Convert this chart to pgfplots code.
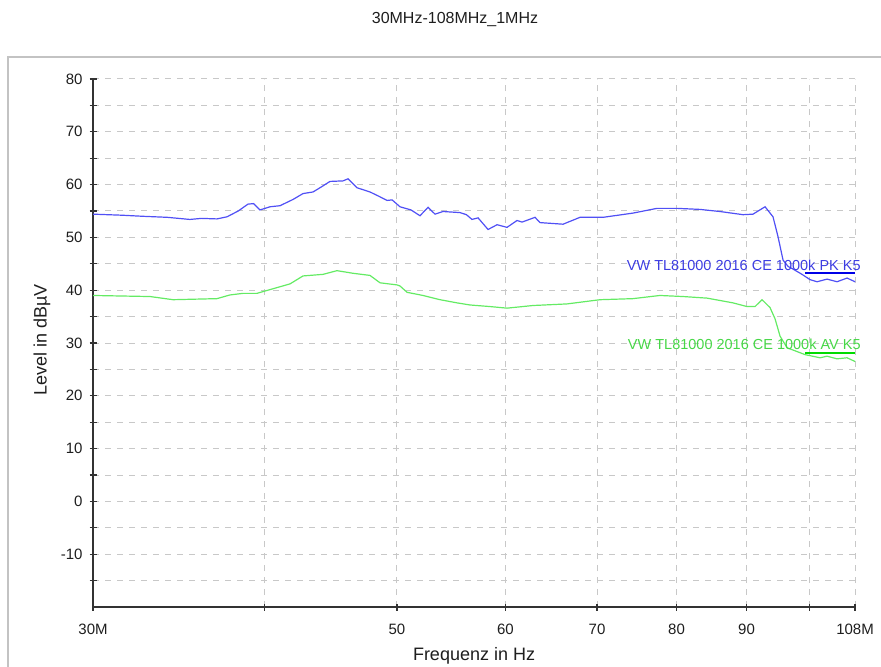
\documentclass[border=0pt]{standalone}
\usepackage{fontspec}
\setmainfont{Liberation Sans}
\usepackage{pgfplots}
\pgfplotsset{compat=1.18}
\definecolor{pk}{RGB}{80,80,245}
\definecolor{av}{RGB}{100,235,100}
\definecolor{pklim}{RGB}{0,0,230}
\definecolor{avlim}{RGB}{0,220,0}
\definecolor{pktext}{RGB}{60,60,225}
\definecolor{avtext}{RGB}{70,215,70}
\definecolor{framegray}{RGB}{195,195,195}
\definecolor{gridgray}{RGB}{200,200,200}
\definecolor{ticktext}{RGB}{30,30,30}
\begin{document}
\begin{tikzpicture}
\useasboundingbox (-46.5pt,-29.5pt) rectangle (394pt,303.5pt);
\draw[color=framegray, line width=1pt] (-42.5pt,-40pt) -- (-42.5pt,275pt) -- (400pt,275pt);
\node[font=\fontsize{8}{9.6}\selectfont, text=ticktext] at (181pt,293.5pt) {30MHz-108MHz\_1MHz};
\begin{axis}[
  at={(0,0)}, anchor=south west,
  scale only axis, width=381pt, height=264pt,
  xmode=log, xmin=30, xmax=108, ymin=-20, ymax=80,
  axis x line*=bottom, axis y line*=left,
  axis line style={-, color=black!80, line width=0.6pt},
  xtick={30,40,50,60,70,80,90,100,108},
  xticklabels={30M,,50,60,70,80,90,,108M},
  ytick={-10,0,10,20,30,40,50,60,70,80},
  minor ytick={-15,-5,5,15,25,35,45,55,65,75},
  grid=both,
  major grid style={dashed, color=gridgray, line width=0.5pt},
  minor grid style={dashed, color=gridgray, line width=0.5pt},
  tick align=center, major tick length=3.5pt, minor tick length=3.5pt,
  tick style={color=black!80, line width=0.6pt},
  ticklabel style={font=\fontsize{7.5}{9}\selectfont, text=ticktext},
  /pgf/number format/assume math mode=true,
  xticklabel style={yshift=-3pt},
  xlabel={Frequenz in Hz},
  xlabel style={at={(axis description cs:0.5,0)}, anchor=center, yshift=-24.5pt, font=\fontsize{9}{10}\selectfont, text=ticktext},
  ylabel={Level in dBµV},
  ylabel style={at={(axis description cs:-0.0669,0.506)}, anchor=center, font=\fontsize{9}{10}\selectfont, text=ticktext},
  clip=false,
]
\addplot[pk, line width=0.6pt] coordinates {
(30.0,54.4)(31.5,54.2)(32.6,54.0)(34.0,53.8)(35.3,53.4)(36.0,53.6)(36.95,53.5)(37.58,53.9)
(38.3,55.0)(38.93,56.3)(39.3,56.4)(39.72,55.2)(40.40,55.8)(41.08,56.0)(42.0,57.2)(42.70,58.3)
(43.42,58.6)(44.0,59.5)(44.68,60.6)(45.67,60.7)(46.06,61.1)(46.76,59.4)(47.79,58.6)(48.5,57.8)
(49.18,57.0)(49.6,57.1)(50.26,55.8)(51.2,55.2)(51.98,54.1)(52.69,55.7)(53.31,54.4)(54.03,54.9)
(55.60,54.7)(56.2,54.3)(56.73,53.4)(57.31,53.7)(58.28,51.5)(59.17,52.4)(60.17,51.9)(61.19,53.2)
(61.71,52.9)(63.07,53.8)(63.60,52.8)(66.11,52.5)(68.02,53.8)(70.71,53.8)(74.36,54.6)(77.42,55.5)
(80.07,55.5)(83.23,55.3)(86.07,54.9)(89.47,54.3)(90.98,54.4)(92.84,55.8)(94.09,53.9)(94.89,50.1)
(95.69,45.7)(96.5,44.5)(97.31,44.0)(98.79,43.0)(100.13,42.0)(101.32,41.6)(103.04,42.1)(104.78,41.6)
(106.56,42.3)(108,41.6)
};
\addplot[av, line width=0.6pt] coordinates {
(30,39.0)(33.02,38.8)(34.32,38.2)(36.95,38.4)(37.77,39.1)(38.60,39.4)(39.52,39.4)(40.88,40.5)
(41.78,41.2)(42.70,42.7)(44.16,43.0)(45.21,43.7)(46.45,43.2)(47.79,42.8)(48.60,41.4)(50.01,41.0)
(50.26,40.8)(50.86,39.6)(52.24,39.0)(53.76,38.2)(55.32,37.6)(56.54,37.2)(58.48,36.9)(60.17,36.6)
(62.86,37.1)(66.55,37.4)(70.35,38.2)(74.36,38.4)(77.81,39.0)(80.88,38.8)(84.21,38.5)(87.97,37.6)
(90.07,36.9)(91.29,36.9)(92.37,38.2)(93.62,36.7)(94.41,34.6)(95.21,31.3)(96.34,29.1)(99.29,27.8)
(101.83,27.2)(103.04,27.5)(104.78,27.0)(106.56,27.2)(108,26.5)
};
\addplot[pklim, line width=1.2pt] coordinates {(99.3,43.3)(108,43.3)};
\addplot[avlim, line width=1.2pt] coordinates {(99.3,28.1)(108,28.1)};
\node[anchor=east, text=pktext, font=\fontsize{7.25}{8}\selectfont, inner sep=0pt] at (axis cs:108,44.8) [xshift=3pt] {VW TL81000 2016 CE 1000k PK K5};
\node[anchor=east, text=avtext, font=\fontsize{7.25}{8}\selectfont, inner sep=0pt] at (axis cs:108,29.7) [xshift=3pt] {VW TL81000 2016 CE 1000k AV K5};
\end{axis}
\end{tikzpicture}
\end{document}
